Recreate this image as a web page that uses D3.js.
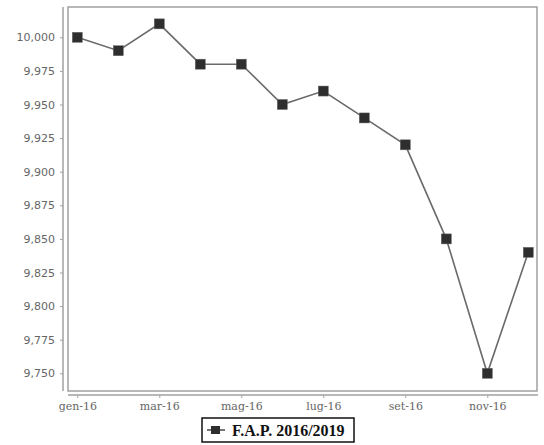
<!DOCTYPE html>
<html><head><meta charset="utf-8">
<script src="https://cdn.jsdelivr.net/npm/d3@7"></script>
<style>body{margin:0;background:#fff}</style>
</head><body>
<script>
const months = ["gen-16","feb-16","mar-16","apr-16","mag-16","giu-16","lug-16","ago-16","set-16","ott-16","nov-16","dic-16"];
const values = [10000, 9990, 10010, 9980, 9980, 9950, 9960, 9940, 9920, 9850, 9750, 9840];
const yTicks = [9750, 9775, 9800, 9825, 9850, 9875, 9900, 9925, 9950, 9975, 10000];
const xTickLabels = ["gen-16","mar-16","mag-16","lug-16","set-16","nov-16"];
const seriesName = "F.A.P. 2016/2019";

const W = 544, H = 445;
const svg = d3.select("body").append("svg").attr("width", W).attr("height", H);

const box = {l: 68, r: 537, t: 7, b: 391};
const x = d3.scalePoint().domain(months).range([77.3, 528.3]);
const y = d3.scaleLinear().domain([9750, 10000]).range([373.3, 37.3]);

// plot frame
svg.append("rect").attr("x", box.l).attr("y", box.t).attr("width", box.r - box.l).attr("height", box.b - box.t)
  .attr("fill", "none").attr("stroke", "#a0a0a0").attr("stroke-width", 1.5);

// y axis
const yAxis = svg.append("g").attr("transform", "translate(63,0)")
  .call(d3.axisLeft(y).tickValues(yTicks).tickSize(3).tickPadding(5).tickFormat(d3.format(",")));
yAxis.select(".domain").attr("d", `M0,${box.t}V${box.b}`).attr("stroke", "#a0a0a0").attr("stroke-width", 1.5);
yAxis.selectAll(".tick line").attr("stroke", "#a0a0a0");
yAxis.selectAll("text").attr("fill", "#666").style("font-family", "DejaVu Sans").style("font-size", "11px");

// x axis
const xAxis = svg.append("g").attr("transform", "translate(0,395)")
  .call(d3.axisBottom(x).tickValues(xTickLabels).tickSize(3).tickPadding(4));
xAxis.select(".domain").attr("d", `M${box.l},0H${box.r + 1}`).attr("stroke", "#a0a0a0").attr("stroke-width", 1.5);
xAxis.selectAll(".tick line").attr("stroke", "#a0a0a0");
xAxis.selectAll("text").attr("fill", "#666").style("font-family", "DejaVu Serif").style("font-size", "11px");

// line
const data = months.map((m, i) => ({m, v: values[i]}));
svg.append("path").datum(data)
  .attr("fill", "none").attr("stroke", "#6a6a6a").attr("stroke-width", 1.6)
  .attr("d", d3.line().x(d => x(d.m)).y(d => y(d.v)));

svg.selectAll("rect.pt").data(data).join("rect").attr("class", "pt")
  .attr("x", d => x(d.m) - 5).attr("y", d => y(d.v) - 5).attr("width", 10).attr("height", 10)
  .attr("fill", "#2e2e2e").attr("stroke", "#666").attr("stroke-width", 0.5);

// legend
const lg = svg.append("g");
lg.append("rect").attr("x", 202).attr("y", 418).attr("width", 152).attr("height", 24)
  .attr("fill", "#fff").attr("stroke", "#111").attr("stroke-width", 1.5);
lg.append("line").attr("x1", 207).attr("x2", 225).attr("y1", 430).attr("y2", 430).attr("stroke", "#555").attr("stroke-width", 1.6);
lg.append("rect").attr("x", 211).attr("y", 426).attr("width", 9).attr("height", 8).attr("fill", "#2e2e2e");
lg.append("text").attr("x", 232).attr("y", 436).text(seriesName)
  .style("font-family", "Liberation Serif").style("font-weight", "bold").style("font-size", "16px").attr("fill", "#111");
</script>
</body></html>
